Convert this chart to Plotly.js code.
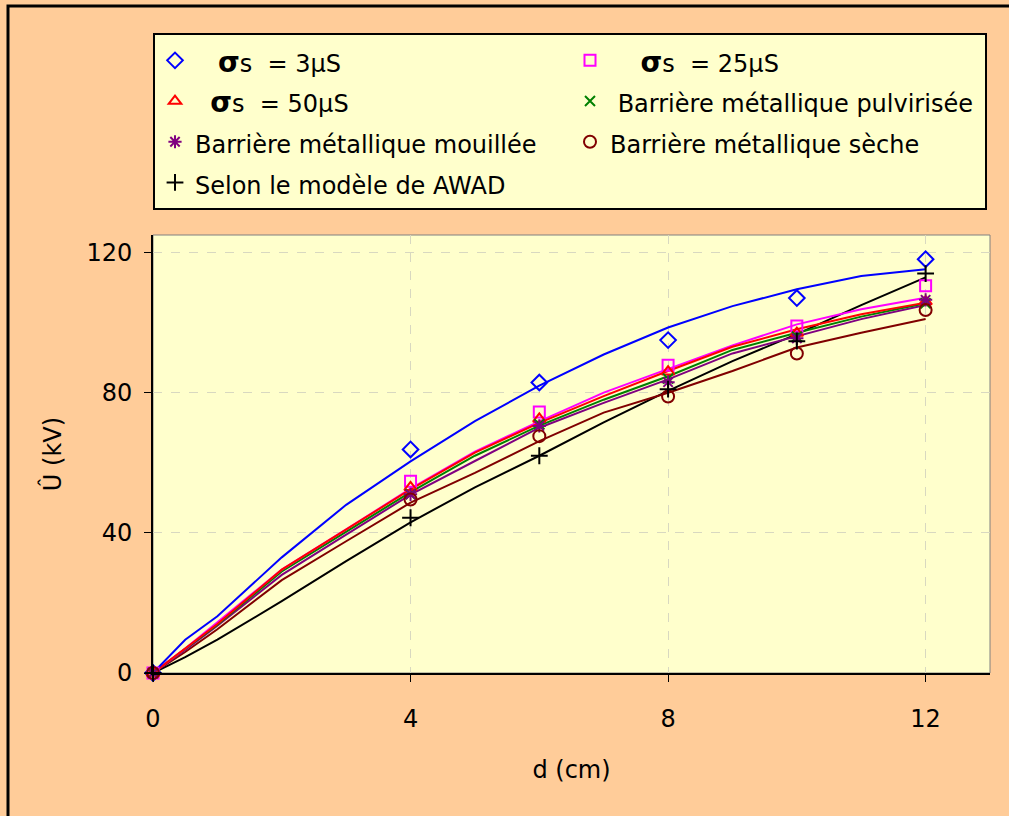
<!DOCTYPE html>
<html>
<head>
<meta charset="utf-8">
<script src="https://cdn.plot.ly/plotly-3.0.1.min.js"></script>
<style>body{margin:0;padding:0;background:#FFCC99;}</style>
</head>
<body>
<div id="chart" style="width:1009px;height:816px;"></div>
<script>
// Measured points (d in cm)
const dPoints = [0, 4, 6, 8, 10, 12];
const sigma3 = [0, 63.8, 82.9, 95.0, 107.0, 118.1];
const sigma25 = [0, 54.7, 74.5, 87.8, 99.0, 110.5];
const sigma50 = [0, 53.0, 72.5, 86.0, 97.0, 106.0];
const pulverisee = [0, 51.0, 71.0, 84.0, 96.0, 105.5];
const mouillee = [0, 51.0, 70.5, 83.0, 95.5, 106.5];
const seche = [0, 49.5, 67.6, 78.9, 91.2, 103.6];
const awad = [0, 44.3, 62.0, 81.0, 94.7, 114.0];

// Curves (d = 0..12 cm)
const dCurve = [0, 0.5, 1, 2, 3, 4, 5, 6, 7, 8, 9, 10, 11, 12];
const curveSigma3 = [0, 9.5, 16.2, 33.0, 48.0, 60.4, 71.9, 82.0, 90.9, 98.6, 104.7, 109.5, 113.3, 115.2];
const curveSigma25 = [0, 7.0, 14.5, 29.5, 41.0, 52.6, 63.2, 71.8, 80.0, 86.7, 93.5, 99.5, 103.8, 107.1];
const curveSigma50 = [0, 7.0, 14.0, 29.5, 40.9, 52.4, 62.9, 71.4, 79.0, 86.2, 93.1, 98.1, 102.4, 105.7];
const curvePulverisee = [0, 6.8, 13.8, 29.0, 40.3, 51.6, 62.0, 70.6, 78.0, 84.7, 92.2, 97.1, 101.7, 105.5];
const curveMouillee = [0, 6.6, 13.5, 28.0, 39.5, 50.9, 60.5, 70.0, 77.1, 83.8, 91.2, 96.2, 101.0, 105.0];
const curveSeche = [0, 6.0, 12.5, 26.5, 37.6, 48.6, 57.1, 66.2, 74.3, 80.0, 86.2, 92.9, 97.1, 101.0];
const curveAwad = [0, 4.5, 9.5, 20.5, 31.9, 43.0, 53.0, 62.0, 71.5, 80.5, 89.0, 96.7, 105.0, 112.9];

const xTicks = [0, 4, 8, 12];
const yTicks = [0, 40, 80, 120];

const sig = '<span style="font-weight:bold;font-size:28px">σ</span>s';
const names = [
  '\u00a0\u00a0\u00a0' + sig + '\u00a0 = 3μS',
  '\u00a0\u00a0\u00a0\u00a0' + sig + '\u00a0 = 25μS',
  '\u00a0\u00a0' + sig + '\u00a0 = 50μS',
  '\u00a0Barrière métallique pulvirisée',
  'Barrière métallique mouillée',
  'Barrière métallique sèche',
  'Selon le modèle de AWAD'
];
const colors = ['#0000FF', '#FF00FF', '#FF0000', '#008000', '#800080', '#800000', '#000000'];
const symbols = ['diamond-open', 'square-open', 'triangle-up-open', 'x-thin-open', 'asterisk-open', 'circle-open', 'cross-thin-open'];
const sizes = [12, 11, 11, 10, 11, 12, 12];
const pointSeries = [sigma3, sigma25, sigma50, pulverisee, mouillee, seche, awad];
const curveSeries = [curveSigma3, curveSigma25, curveSigma50, curvePulverisee, curveMouillee, curveSeche, curveAwad];

const traces = [];
const lineOrder = [6, 5, 4, 3, 1, 2, 0];
lineOrder.forEach(i => {
  traces.push({
    x: dCurve, y: curveSeries[i], type: 'scatter', mode: 'lines',
    line: {color: colors[i], width: 2},
    showlegend: false, hoverinfo: 'skip', cliponaxis: false
  });
});
for (let i = 0; i < 7; i++) {
  traces.push({
    x: dPoints, y: pointSeries[i], type: 'scatter', mode: 'markers',
    name: '<span style="font-size:24px">' + names[i] + '</span>',
    marker: {symbol: symbols[i], size: sizes[i], color: colors[i], line: {color: colors[i], width: 2}},
    cliponaxis: false
  });
}

const L = 153, R = 19, T = 235, B = 143;
const W = 1009, H = 816;
const pw = W - L - R, ph = H - T - B;
const px = v => (v - L) / pw;
const py = v => (H - B - v) / ph;

const layout = {
  width: W, height: H,
  margin: {l: L, r: R, t: T, b: B, pad: 0},
  paper_bgcolor: '#FFCC99',
  plot_bgcolor: '#FFFFCC',
  font: {family: 'DejaVu Sans, Verdana, sans-serif', size: 24, color: '#000000'},
  showlegend: true,
  legend: {
    orientation: 'h', x: px(153), y: py(33), xanchor: 'left', yanchor: 'top',
    bgcolor: '#FFFFCC', bordercolor: '#000000', borderwidth: 2,
    entrywidth: 370, entrywidthmode: 'pixels',
    font: {family: 'DejaVu Sans, Verdana, sans-serif', size: 29, color: '#000000'},
    traceorder: 'normal'
  },
  xaxis: {
    range: [0, 13], tickvals: xTicks, ticktext: xTicks.map(String),
    showline: true, linecolor: '#000000', linewidth: 2,
    ticks: 'outside', ticklen: 7, tickwidth: 1, tickcolor: '#000000',
    showgrid: true, gridcolor: '#D8D8C0', griddash: 'dash', gridwidth: 1,
    zeroline: false, ticklabelstandoff: 16,
    title: {text: 'd (cm)', font: {size: 24}, standoff: 29},
    automargin: false, fixedrange: true
  },
  yaxis: {
    range: [0, 125], tickvals: yTicks, ticktext: yTicks.map(String),
    showline: true, linecolor: '#000000', linewidth: 2,
    ticks: 'outside', ticklen: 7, tickwidth: 1, tickcolor: '#000000',
    showgrid: true, gridcolor: '#D8D8C0', griddash: 'dash', gridwidth: 1,
    zeroline: false, ticklabelstandoff: 7,
    title: {text: 'Û (kV)', font: {size: 24}, standoff: 18},
    automargin: false, fixedrange: true
  },
  shapes: [
    {type: 'rect', xref: 'paper', yref: 'paper', x0: 0, x1: 1, y0: 0, y1: 1,
     line: {color: '#808080', width: 1}, layer: 'below'},
    {type: 'rect', xref: 'paper', yref: 'paper', x0: px(8), x1: px(1014), y0: py(6), y1: py(822),
     line: {color: '#000000', width: 3}, fillcolor: 'rgba(0,0,0,0)', layer: 'below'}
  ]
};

Plotly.newPlot('chart', traces, layout, {staticPlot: true, displayModeBar: false});
</script>
</body>
</html>
